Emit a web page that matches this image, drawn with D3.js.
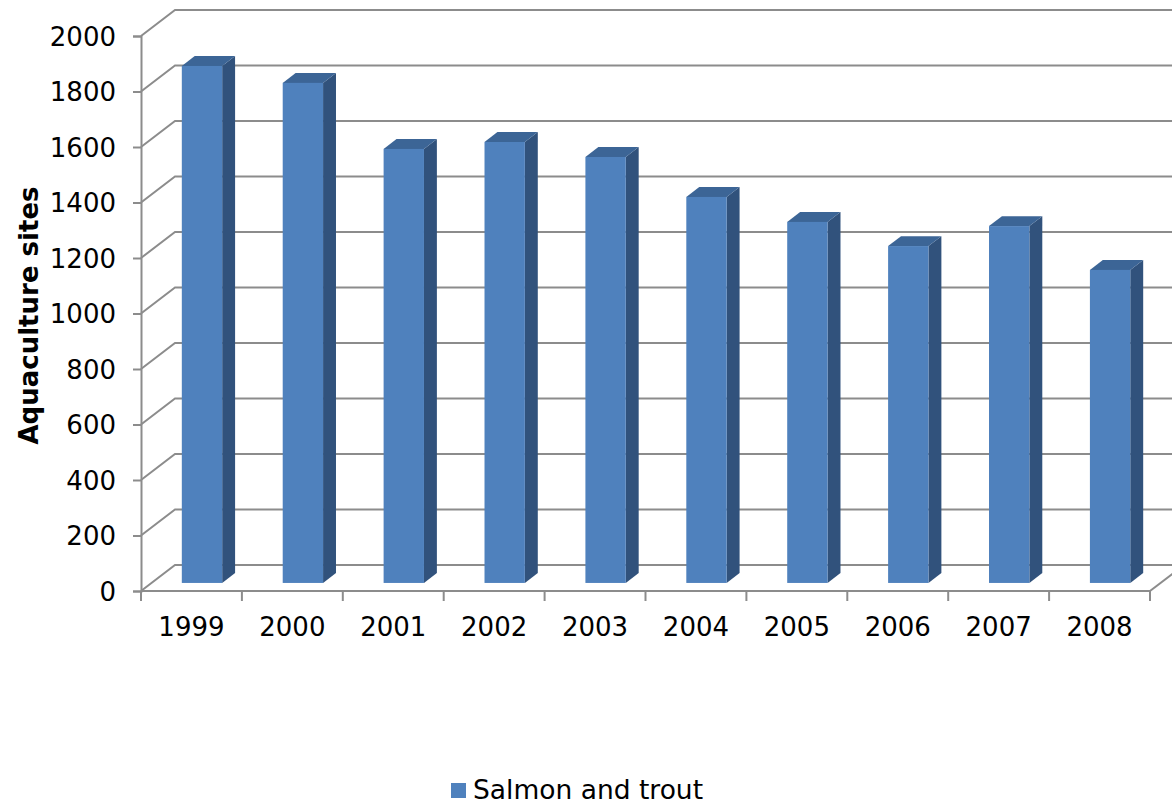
<!DOCTYPE html>
<html>
<head>
<meta charset="utf-8">
<script src="https://cdn.jsdelivr.net/npm/d3@7"></script>
<style>
  body { margin: 0; background: #fff; }
  svg { display: block; }
  svg text { font-family: "DejaVu Sans", Verdana, sans-serif; }
</style>
</head>
<body>
<div id="chart"></div>
<script>
// Data
const years = ['1999', '2000', '2001', '2002', '2003', '2004', '2005', '2006', '2007', '2008']
const sites = [1863, 1802, 1564, 1589, 1535, 1391, 1301, 1214, 1286, 1128]
const yTicks = [0, 200, 400, 600, 800, 1000, 1200, 1400, 1600, 1800, 2000]
const seriesName = 'Salmon and trout'
const axisLabel = 'Aquaculture sites'

const width = 1172
const height = 805

// 3D look: front plane of the axes, the back wall is offset by depth
const depth = {dx: 34, dy: -26}
const barPlane = 0.31   // where the bar front faces sit between front and back
const barDepth = 0.38   // how deep the bars are

const style = {
  front: '#4F81BD',
  side: '#31527C',
  top: '#3C6596',
  grid: '#8C8C8C',
  axis: '#8C8C8C'
}

const svg = d3.select('#chart')
  .append('svg')
  .attr('width', width)
  .attr('height', height)

const xScale = d3.scaleBand().domain(years).range([141, 1150]).padding(0)
const yScale = d3.scaleLinear().domain([0, 2000]).range([591, 36])

const xLeft = xScale.range()[0]
const xRight = xScale.range()[1]

// Gridlines: short diagonal on the side wall then across the back wall
const gGrid = svg.append('g')
gGrid.selectAll('.grid')
  .data(yTicks)
  .join('path')
  .attr('class', 'grid')
  .attr('d', v => {
    const y = yScale(v)
    return `M${xLeft},${y} L${xLeft + depth.dx},${y + depth.dy} L${xRight + depth.dx},${y + depth.dy}`
  })
  .attr('fill', 'none')
  .style('stroke', style.grid)
  .style('stroke-width', 2)

// Floor right edge
gGrid.append('path')
  .attr('d', `M${xRight},${yScale(0)} L${xRight + depth.dx},${yScale(0) + depth.dy}`)
  .attr('fill', 'none')
  .style('stroke', style.grid)
  .style('stroke-width', 2)

// Bars
const offX = depth.dx * barPlane
const offY = depth.dy * barPlane
const bdx = depth.dx * barDepth
const bdy = depth.dy * barDepth
const bw = xScale.bandwidth() * 0.4

const bars = years.map((yr, i) => {
  const x0 = xScale(yr) + xScale.bandwidth() * 0.3 + offX
  const x1 = x0 + bw
  const yTop = yScale(sites[i]) + offY
  const yBot = yScale(0) + offY
  return {x0, x1, yTop, yBot}
})

const gBars = svg.append('g')
gBars.selectAll('.bar-side')
  .data(bars)
  .join('path')
  .attr('class', 'bar-side')
  .attr('d', d => `M${d.x1},${d.yTop} L${d.x1 + bdx},${d.yTop + bdy} L${d.x1 + bdx},${d.yBot + bdy} L${d.x1},${d.yBot} Z`)
  .style('fill', style.side)

gBars.selectAll('.bar-top')
  .data(bars)
  .join('path')
  .attr('class', 'bar-top')
  .attr('d', d => `M${d.x0},${d.yTop} L${d.x0 + bdx},${d.yTop + bdy} L${d.x1 + bdx},${d.yTop + bdy} L${d.x1},${d.yTop} Z`)
  .style('fill', style.top)

gBars.selectAll('.bar-front')
  .data(bars)
  .join('rect')
  .attr('class', 'bar-front')
  .attr('x', d => d.x0)
  .attr('y', d => d.yTop)
  .attr('width', d => d.x1 - d.x0)
  .attr('height', d => d.yBot - d.yTop)
  .style('fill', style.front)

// Left axis
const lAxis = svg.append('g')
  .attr('transform', `translate(${xLeft},0)`)
  .call(d3.axisLeft(yScale)
    .tickValues(yTicks)
    .tickSize(8)
    .tickPadding(17)
    .tickFormat(d3.format('d')))
lAxis.selectAll('path, line')
  .style('stroke', style.axis)
  .style('stroke-width', 2)
lAxis.selectAll('text')
  .style('font-size', '26px')
  .style('fill', '#000')
  .attr('dy', '0.36em')

// Bottom axis: line, ticks at category boundaries, labels centred
const bAxis = svg.append('g')
  .attr('transform', `translate(0,${yScale(0)})`)
  .call(d3.axisBottom(xScale)
    .tickSize(0)
    .tickPadding(27))
bAxis.select('.domain').remove()
bAxis.append('line')
  .attr('x1', xLeft)
  .attr('x2', xRight)
  .style('stroke', style.axis)
  .style('stroke-width', 2)
bAxis.selectAll('.bound')
  .data(years.map(y => xScale(y)).concat([xRight]))
  .join('line')
  .attr('class', 'bound')
  .attr('x1', d => d)
  .attr('x2', d => d)
  .attr('y1', 0)
  .attr('y2', 10)
  .style('stroke', style.axis)
  .style('stroke-width', 2)
bAxis.selectAll('text')
  .style('font-size', '26px')
  .style('fill', '#000')

// Axis title
svg.append('text')
  .attr('transform', `translate(38,${yScale(1000) + 2}) rotate(270)`)
  .style('text-anchor', 'middle')
  .style('font-size', '26px')
  .style('font-weight', 'bold')
  .text(axisLabel)

// Legend
const legend = svg.append('g')
  .attr('transform', 'translate(451,783)')
legend.append('rect')
  .attr('width', 15)
  .attr('height', 15)
  .style('fill', style.front)
legend.append('text')
  .attr('x', 22)
  .attr('y', 16)
  .style('font-size', '26.5px')
  .text(seriesName)
</script>
</body>
</html>
